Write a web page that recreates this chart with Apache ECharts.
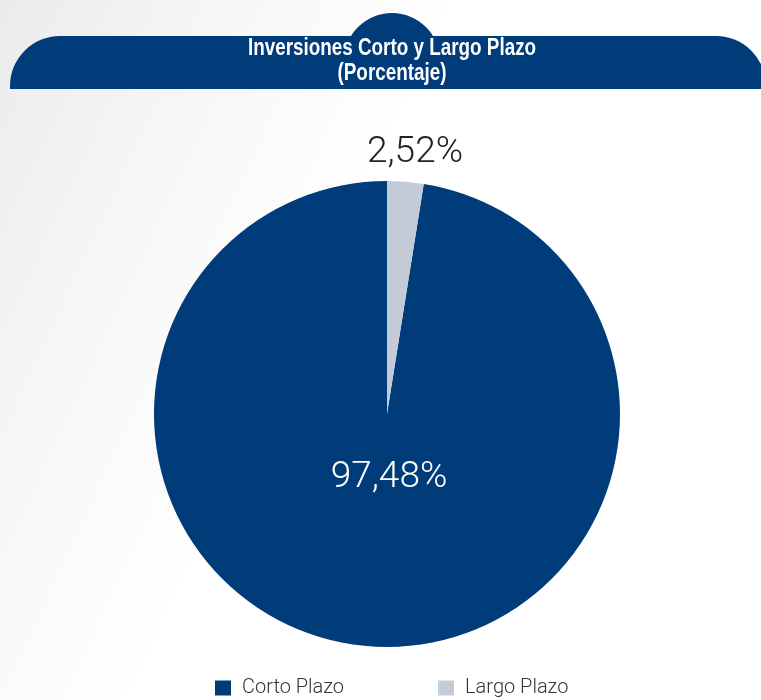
<!DOCTYPE html>
<html>
<head>
<meta charset="utf-8">
<script src="https://cdn.jsdelivr.net/npm/echarts@6/dist/echarts.min.js"></script>
<style>
  html, body { margin: 0; padding: 0; }
  body {
    width: 761px; height: 700px; overflow: hidden;
    background: linear-gradient(115deg, #ebebeb 0%, #f6f6f6 20%, #ffffff 42%);
  }
  #chart { width: 761px; height: 700px; }
</style>
</head>
<body>
<div id="chart"></div>
<script>
// Investment split (percent)
const categories = ['Corto Plazo', 'Largo Plazo'];
const shares = [97.48, 2.52];
const sliceColors = ['#003b7a', '#c3ccd6'];

const fmt = v => v.toFixed(2).replace('.', ',') + '%';

const chart = echarts.init(document.getElementById('chart'), null, { renderer: 'canvas' });

const bannerBlue = '#003b7a';
const lightFace = 'Roboto, "Liberation Sans", sans-serif';

chart.setOption({
  animation: false,
  backgroundColor: 'transparent',
  graphic: [
    // header banner: rounded bump on top, then the rounded bar
    {
      type: 'sector', z: 1,
      shape: { cx: 392, cy: 61, r0: 0, r: 48, startAngle: Math.PI, endAngle: Math.PI * 2 },
      style: { fill: bannerBlue }
    },
    {
      type: 'rect', z: 1,
      shape: { x: 10, y: 36, width: 756, height: 53, r: [50, 50, 0, 0] },
      style: { fill: bannerBlue }
    },
    {
      type: 'text', z: 2, x: 392, y: 36, scaleX: 0.82, scaleY: 1,
      style: {
        text: 'Inversiones Corto y Largo Plazo\n(Porcentaje)',
        fill: '#ffffff', font: 'bold 23px "Liberation Sans", Arial, sans-serif',
        align: 'center', verticalAlign: 'top', lineHeight: 25
      }
    }
  ],
  legend: {
    data: categories,
    top: 673,
    left: 210,
    icon: 'rect',
    itemWidth: 16,
    itemHeight: 15,
    itemGap: 94,
    textStyle: { fontFamily: lightFace, fontWeight: 300, fontSize: 20, color: '#333333', padding: [0, 0, 0, 6] }
  },
  series: [{
    type: 'pie',
    center: [387, 414],
    radius: 233,
    clockwise: false,
    startAngle: 90,
    silent: true,
    data: categories.map((name, i) => ({
      name,
      value: shares[i],
      itemStyle: { color: sliceColors[i] },
      label: i === 0
        ? { position: 'center', offset: [2, 64], color: '#ffffff' }
        : { position: 'center', offset: [28, -261], color: '#222222' }
    })),
    label: {
      show: true,
      formatter: p => fmt(p.value),
      fontFamily: lightFace,
      fontWeight: 300,
      fontSize: 37
    },
    labelLine: { show: false }
  }]
});
</script>
</body>
</html>
